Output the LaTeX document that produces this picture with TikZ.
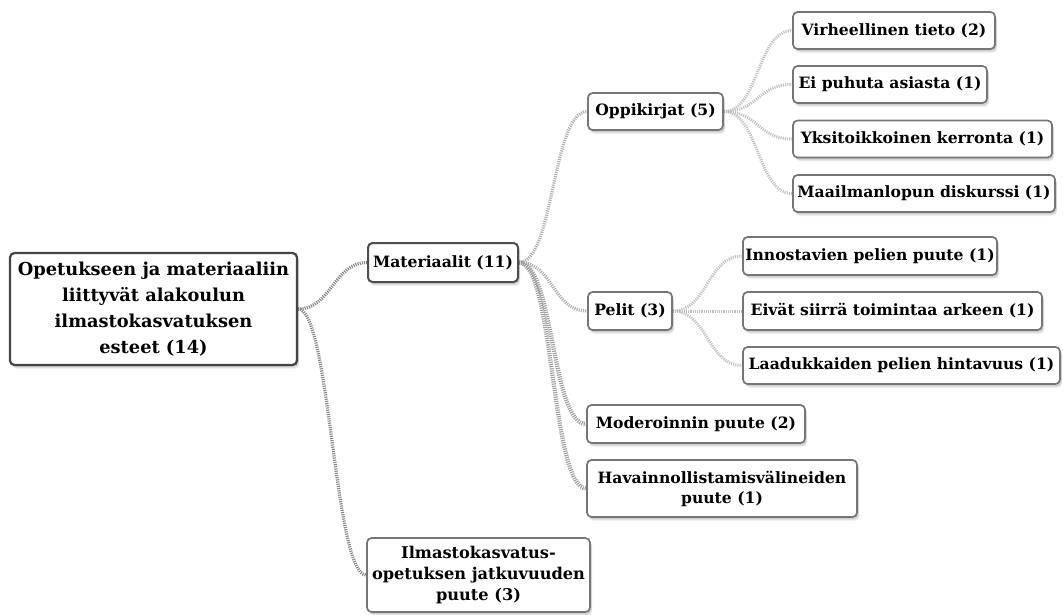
\documentclass[tikz,border=0pt]{standalone}
\usepackage{fontspec}
\setmainfont{DejaVu Serif}
\usetikzlibrary{shadows,backgrounds}

\definecolor{rootline}{HTML}{858585}
\definecolor{midline}{HTML}{AFAFAF}
\definecolor{leafline}{HTML}{C0C0C0}
\definecolor{boxedge}{HTML}{767676}
\definecolor{rootedge}{HTML}{444444}

\tikzset{
  softshadow/.style={
    general shadow={fill=black, opacity=0.05, shadow xshift=2pt, shadow yshift=-4pt, rounded corners=6pt},
    general shadow={fill=black, opacity=0.07, shadow xshift=2pt, shadow yshift=-3pt},
    general shadow={fill=black, opacity=0.08, shadow xshift=1.5pt, shadow yshift=-2pt}},
  topic/.style={draw=boxedge, line width=1.7pt, rounded corners=4.5pt, fill=white,
    inner sep=0pt, align=center, softshadow,
    font=\bfseries\fontsize{15.6}{20}\selectfont},
  roottopic/.style={topic, draw=rootedge, line width=2.2pt,
    font=\bfseries\fontsize{17.8}{26}\selectfont},
  maintopic/.style={topic, draw=rootedge!80!boxedge, line width=2pt},
  sz/.style 2 args={minimum width=#1 pt, minimum height=#2 pt},
  link/.style={line width=3.2pt, dash pattern=on 1.1pt off 1.1pt},
  rootlink/.style={link, draw=rootline},
  midlink/.style={link, draw=midline},
  thicklink/.style={link, draw=midline!90!black, line width=4.2pt},
  leaflink/.style={link, draw=leafline, line width=3pt},
}

\begin{document}
\begin{tikzpicture}[x=1pt, y=-1pt]
\useasboundingbox (0,0) rectangle (1063,614);

% topics
\node[roottopic, sz={287}{112}] (root) at (153.5,309)
  {Opetukseen ja materiaaliin\\liittyvät alakoulun\\ilmastokasvatuksen\\esteet (14)};
\node[maintopic, sz={150}{39}] (mat) at (443,262.5) {Materiaalit (11)};
\node[topic, sz={223}{74}, font=\bfseries\fontsize{16.2}{21}\selectfont] (ilm) at (478.5,575)
  {Ilmastokasvatus-\\opetuksen jatkuvuuden\\puute (3)};

\node[topic, sz={135}{37}] (opp) at (655.5,111.5) {Oppikirjat (5)};
\node[topic, sz={84}{38}] (pel) at (630,311) {Pelit (3)};
\node[topic, sz={218}{38}] (mod) at (696,424) {Moderoinnin puute (2)};
\node[topic, sz={270}{57}] (hav) at (722,488.5) {Havainnollistamisvälineiden\\puute (1)};

\node[topic, sz={202}{37}] (vir) at (894,30.5) {Virheellinen tieto (2)};
\node[topic, sz={194}{37}] (eip) at (890,84.5) {Ei puhuta asiasta (1)};
\node[topic, sz={259}{37}] (yks) at (922.5,139) {Yksitoikkoinen kerronta (1)};
\node[topic, sz={262}{37}] (maa) at (924,193.5) {Maailmanlopun diskurssi (1)};

\node[topic, sz={254}{38}] (inn) at (870,256) {Innostavien pelien puute (1)};
\node[topic, sz={299}{38}] (eiv) at (892.5,311) {Eivät siirrä toimintaa arkeen (1)};
\node[topic, sz={317}{37}] (laa) at (901.5,365.5) {Laadukkaiden pelien hintavuus (1)};

% branches
\begin{pgfonlayer}{background}
\draw[rootlink] (root.east) .. controls +(33,0) and +(-33,0) .. (mat.west);
\draw[rootlink] (root.east) .. controls +(32,0) and +(-32,0) .. (ilm.west);

\draw[midlink] (mat.east) .. controls +(35,0) and +(-35,0) .. (opp.west);
\draw[midlink] (mat.east) .. controls +(35,0) and +(-35,0) .. (pel.west);
\draw[thicklink] (mat.east) .. controls +(35,0) and +(-35,0) .. (mod.west);
\draw[thicklink] (mat.east) .. controls +(35,0) and +(-35,0) .. (hav.west);

\foreach \t in {vir,eip,yks,maa}
  \draw[leaflink] (opp.east) .. controls +(35,0) and +(-35,0) .. (\t.west);
\foreach \t in {inn,eiv,laa}
  \draw[leaflink] (pel.east) .. controls +(35,0) and +(-35,0) .. (\t.west);
\end{pgfonlayer}
\end{tikzpicture}
\end{document}
